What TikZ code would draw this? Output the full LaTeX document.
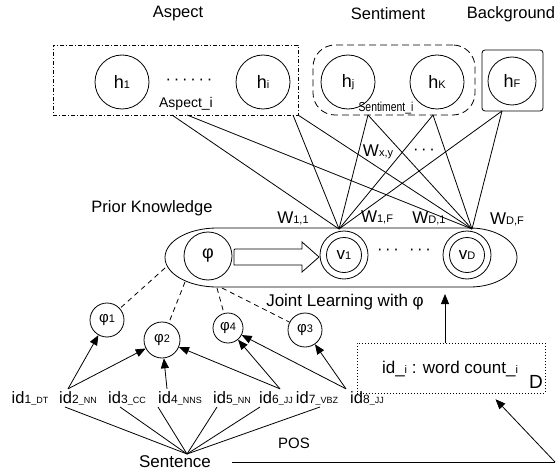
\documentclass[tikz,border=0pt]{standalone}
\usepackage{fontspec}
\setmainfont{Liberation Sans}
\usetikzlibrary{arrows.meta}
\newcommand{\myfs}[1]{\fontsize{#1}{#1}\selectfont}
\begin{document}
\begin{tikzpicture}[x=1pt,y=-1pt,
  every node/.style={font=\myfs{16.5},inner sep=1pt},
  ln/.style={line width=0.8pt},
  arr/.style={line width=0.8pt,-{Triangle[length=10pt,width=8pt]}},
  dsh/.style={line width=0.8pt,dash pattern=on 5pt off 4pt},
  hc/.style={circle,draw,line width=0.8pt,minimum size=54pt,inner sep=0pt,font=\myfs{18}},
  vc/.style={circle,draw,line width=0.8pt,minimum size=48pt,inner sep=0pt},
  vi/.style={circle,draw,line width=0.8pt,minimum size=35pt,inner sep=0pt,font=\myfs{17}},
  pc/.style={circle,draw,line width=0.8pt,inner sep=0pt,font=\myfs{15}},
  idl/.style={anchor=base,inner sep=2pt},
  wl/.style={font=\myfs{17}}
]
\useasboundingbox (0,0) rectangle (559,473);
\newcommand{\sub}[1]{{\myfs{11}#1}}
\newcommand{\ids}[2]{{\myfs{16.5}id}{\myfs{12}#1}{\myfs{9}\_#2}}

% titles
\node (tA) at (178,14) {Aspect};
\node (tS) at (388,14) {Sentiment};
\node (tB) at (511,14) {Background};

% aspect group
\node[draw,line width=0.8pt,dash pattern=on 4pt off 2pt on 1pt off 2pt,minimum width=245pt,minimum height=70pt] (abox) at (175.5,80) {};
\node[hc] (h1) at (122,82) {h\sub{1}};
\node (adots) at (189,82) {\textperiodcentered\,\textperiodcentered\,\textperiodcentered\,\textperiodcentered\,\textperiodcentered\,\textperiodcentered};
\node[hc] (hi) at (263,82) {h\sub{i}};
\node[font=\myfs{14}] (ai) at (186,104) {Aspect\_i};

% sentiment group
\node[draw,line width=0.8pt,dash pattern=on 7pt off 4pt,rounded corners=22pt,minimum width=162pt,minimum height=70pt] (sbox) at (394,80) {};
\node[hc] (hj) at (348,82) {h\sub{j}};
\node[hc] (hk) at (437,82) {h\sub{K}};
\node (si) at (386,108) {\scalebox{0.8}[1]{\myfs{13}Sentiment\_i}};

% background
\node[draw,line width=0.8pt,rounded corners=3pt,minimum width=61pt,minimum height=61pt] (bbox) at (512.5,80.5) {};
\node[hc,minimum size=48pt] (hF) at (512,81) {h\sub{F}};

% prior knowledge
\node (pk) at (152,208) {Prior Knowledge};
\draw[ln] (217,228) -- (470,228) arc[start angle=-90,end angle=90,x radius=47,y radius=29.5]
  -- (217,287) arc[start angle=90,end angle=270,x radius=52,y radius=29.5] -- cycle;
\node[vc,font=\myfs{18}] (phi) at (208,256) {φ};
\draw[ln] (234,249) -- (302,249) -- (302,242) -- (319,257) -- (302,272) -- (302,265) -- (234,265) [rounded corners=1pt] -- cycle;
\node[vc] (v1) at (344,255) {};
\node[vi] (v1in) at (344,255) {v\sub{1}};
\node[vc] (vD) at (467,255) {};
\node[vi] (vDin) at (467,255) {v\sub{D}};
\node (vd1) at (388,252) {\textperiodcentered\,\textperiodcentered\,\textperiodcentered};
\node (vd2) at (420,252) {\textperiodcentered\,\textperiodcentered\,\textperiodcentered};

% weights
\node[wl] (w11) at (293,218) {W\sub{1,1}};
\node[wl] (w1F) at (377,217) {W\sub{1,F}};
\node[wl] (wD1) at (429,218) {W\sub{D,1}};
\node[wl] (wDF) at (507,219) {W\sub{D,F}};
\node[wl] (wxy) at (378,152) {W\sub{x,y}};
\node (wdots) at (424,152) {\textperiodcentered\,\textperiodcentered\,\textperiodcentered};

% connection lines
\coordinate (c1) at (339,229);
\coordinate (cD) at (472,229);
\coordinate (oA1) at (172,115);
\coordinate (oA2) at (187,115);
\coordinate (oH1) at (293,115);
\coordinate (oH2) at (298,115);
\coordinate (oS) at (368,115);
\coordinate (oK) at (433,115);
\coordinate (oB) at (502,111);
\draw[ln] (oA1) -- (c1);
\draw[ln] (oA2) -- (cD);
\draw[ln] (oH1) -- (c1);
\draw[ln] (oH2) -- (cD);
\draw[ln] (oS) -- (c1);
\draw[ln] (oS) -- (cD);
\draw[ln] (oK) -- (c1);
\draw[ln] (oK) -- (cD);
\draw[ln] (oB) -- (c1);
\draw[ln] (oB) -- (cD);

% phis
\node[pc,minimum size=34pt] (p1) at (107,320) {φ\sub{1}};
\node[pc,minimum size=36pt] (p2) at (162,340) {φ\sub{2}};
\node[pc,minimum size=30pt] (p4) at (228,328) {φ\sub{4}};
\node[pc,minimum size=34pt] (p3) at (305,330) {φ\sub{3}};
\coordinate (e1) at (165,268);
\coordinate (e2) at (185,282);
\coordinate (e3) at (217,288);
\coordinate (e4) at (222,288);
\draw[dsh] (e1) -- (p1);
\draw[dsh] (e2) -- (p2);
\draw[dsh] (e3) -- (p4);
\draw[dsh] (e4) -- (p3);

\node[font=\myfs{17}] (jl) at (345,302) {Joint Learning with φ};

% ids
\node[idl] (id1) at (30,403) {\ids{1}{DT}};
\node[idl] (id2) at (78,403) {\ids{2}{NN}};
\node[idl] (id3) at (127,403) {\ids{3}{CC}};
\node[idl] (id4) at (180,403) {\ids{4}{NNS}};
\node[idl] (id5) at (232,403) {\ids{5}{NN}};
\node[idl] (id6) at (276,403) {\ids{6}{JJ}};
\node[idl] (id7) at (317,403) {\ids{7}{VBZ}};
\node[idl] (id8) at (367,403) {\ids{8}{JJ}};

\draw[arr] ([xshift=-10pt]id2.north) -- (p1);
\draw[arr] ([xshift=-10pt]id2.north) -- (p2);
\draw[arr] ([xshift=-13pt]id4.north) -- (p2);
\draw[arr] ([xshift=4pt]id6.north) -- (p2);
\draw[arr] ([xshift=4pt]id6.north) -- (p4);
\draw[arr] ([xshift=-21pt]id8.north) -- (p4);
\draw[arr] ([xshift=-21pt]id8.north) -- (p3);

% sentence
\node[font=\myfs{17}] (sent) at (175,462) {Sentence};
\node[font=\myfs{15}] (pos) at (294,443) {POS};
\coordinate (sc) at (187,454);
\draw[ln] (sc) -- ([xshift=-13pt]id2.south);
\draw[ln] (sc) -- ([xshift=-7pt]id3.south);
\draw[ln] (sc) -- ([xshift=-22pt]id4.south);
\draw[ln] (sc) -- ([xshift=-15pt]id5.south);
\draw[ln] (sc) -- ([xshift=-16pt]id6.south);
\draw[ln] (sc) -- ([xshift=3pt]id7.south);

% word count box
\node[draw,line width=0.8pt,dash pattern=on 1.2pt off 1.8pt,minimum width=188pt,minimum height=50pt] (wbox) at (451,368) {};
\node[font=\myfs{17}] (wc) at (450,369) {id\_{\myfs{11}i} : word count\_{\myfs{11}i}};
\node[font=\myfs{19}] (dl) at (536,382) {D};
\coordinate (corner) at (555,462);
\coordinate (eb) at (445,294);
\draw[ln] ([xshift=20pt]sent.east) -- (corner);
\draw[arr,shorten >=8pt] (corner) -- ([xshift=39pt]wbox.south);
\draw[arr] ([xshift=-6pt]wbox.north) -- (eb);
\end{tikzpicture}
\end{document}
